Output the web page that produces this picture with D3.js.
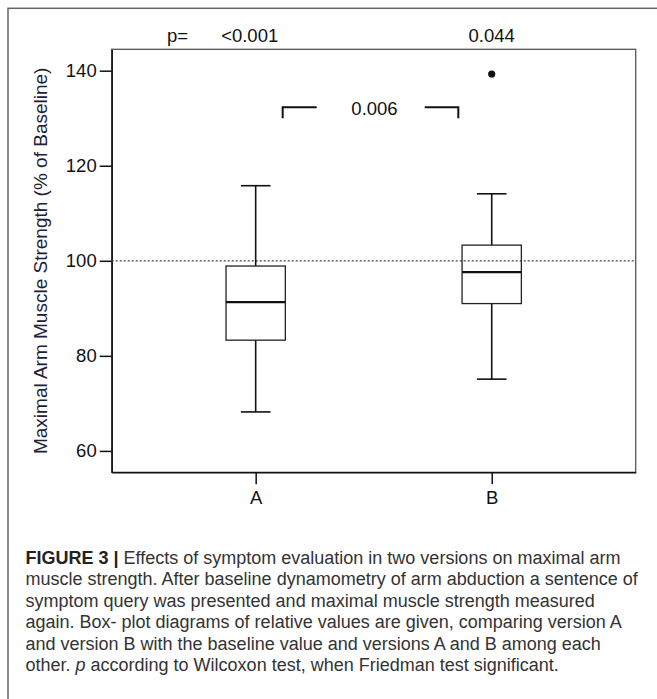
<!DOCTYPE html>
<html>

<head>
  <meta charset="utf-8">
  <script src="https://d3js.org/d3.v7.min.js"></script>
  <style>
    body { margin: 0; background: #fff; }
    text { font-family: "Liberation Sans", Arial, sans-serif; }
  </style>
</head>

<body>
  <script>
    //Chart data
    const categories = ["A", "B"];
    const whiskerLow = [68.2, 75.1];
    const q1 = [83.3, 91.0];
    const median = [91.3, 97.6];
    const q3 = [98.9, 103.3];
    const whiskerHigh = [115.8, 114.1];
    const outlierCategory = ["B"];
    const outlierValue = [139.3];
    const pVsBaseline = ["<0.001", "0.044"];
    const pBetween = "0.006";
    const bracketValue = 132.3;
    const baselineValue = 100;
    const yTicks = [60, 80, 100, 120, 140];
    const yTitle = "Maximal Arm Muscle Strength (% of Baseline)";
    const captionLines = [
      " Effects of symptom evaluation in two versions on maximal arm",
      "muscle strength. After baseline dynamometry of arm abduction a sentence of",
      "symptom query was presented and maximal muscle strength measured",
      "again. Box- plot diagrams of relative values are given, comparing version A",
      "and version B with the baseline value and versions A and B among each",
      " according to Wilcoxon test, when Friedman test significant."
    ];

    const width = 657;
    const height = 699;
    const margin = { top: 49.3, left: 111.7, right: 21.3, bottom: 226.7 };

    const svg = d3.select("body").append("svg")
      .attr("width", width)
      .attr("height", height);

    //Outer figure frame
    svg.append("rect")
      .attr("x", 8).attr("y", 8.3)
      .attr("width", 700).attr("height", 750)
      .attr("fill", "none")
      .attr("stroke", "#666")
      .attr("stroke-width", 1.5);

    const x = d3.scalePoint()
      .domain(categories)
      .range([margin.left, width - margin.right])
      .padding(0.61);

    const y = d3.scaleLinear()
      .domain([55.5, 144.5])
      .range([height - margin.bottom, margin.top]);

    const plotRight = width - margin.right;
    const plotBottom = height - margin.bottom;
    const boxWidth = 59.3;

    //Plot border (top/right in grey)
    svg.append("rect")
      .attr("x", margin.left).attr("y", margin.top)
      .attr("width", plotRight - margin.left)
      .attr("height", plotBottom - margin.top)
      .attr("fill", "none")
      .attr("stroke", "#555")
      .attr("stroke-width", 1.3);

    //Axes
    const yAxis = svg.append("g")
      .attr("transform", "translate(" + margin.left + ",0)")
      .call(d3.axisLeft(y).tickValues(yTicks).tickSize(12).tickSizeOuter(0).tickPadding(3));

    const xAxis = svg.append("g")
      .attr("transform", "translate(0," + plotBottom + ")")
      .call(d3.axisBottom(x).tickSize(12).tickSizeOuter(0).tickPadding(7));

    [yAxis, xAxis].forEach(function(axis) {
      axis.select(".domain").attr("stroke", "#111").attr("stroke-width", 1.5);
      axis.selectAll(".tick line").attr("stroke", "#111").attr("stroke-width", 1.5);
      axis.selectAll(".tick text")
        .attr("fill", "#111")
        .style("font-size", "18.5px")
        .style("font-family", "'Liberation Sans', Arial, sans-serif");
    });

    //Y axis title
    svg.append("text")
      .attr("transform", "translate(46.7," + (margin.top + plotBottom) / 2 + ") rotate(-90)")
      .attr("text-anchor", "middle")
      .attr("fill", "#1c2136")
      .style("font-size", "19px")
      .text(yTitle);

    //Baseline reference line
    svg.append("line")
      .attr("x1", margin.left).attr("x2", plotRight)
      .attr("y1", y(baselineValue)).attr("y2", y(baselineValue))
      .attr("stroke", "#444")
      .attr("stroke-width", 1.3)
      .attr("stroke-dasharray", "2,2");

    //Box plots
    const boxes = svg.selectAll(".box")
      .data(categories)
      .enter().append("g")
      .attr("class", "box");

    boxes.append("line")
      .attr("x1", d => x(d)).attr("x2", d => x(d))
      .attr("y1", (d, i) => y(whiskerHigh[i]))
      .attr("y2", (d, i) => y(q3[i]))
      .attr("stroke", "#111").attr("stroke-width", 1.6);

    boxes.append("line")
      .attr("x1", d => x(d)).attr("x2", d => x(d))
      .attr("y1", (d, i) => y(q1[i]))
      .attr("y2", (d, i) => y(whiskerLow[i]))
      .attr("stroke", "#111").attr("stroke-width", 1.6);

    [whiskerHigh, whiskerLow].forEach(function(vals) {
      boxes.append("line")
        .attr("x1", d => x(d) - boxWidth / 4).attr("x2", d => x(d) + boxWidth / 4)
        .attr("y1", (d, i) => y(vals[i]))
        .attr("y2", (d, i) => y(vals[i]))
        .attr("stroke", "#111").attr("stroke-width", 1.6);
    });

    boxes.append("rect")
      .attr("x", d => x(d) - boxWidth / 2)
      .attr("width", boxWidth)
      .attr("y", (d, i) => y(q3[i]))
      .attr("height", (d, i) => y(q1[i]) - y(q3[i]))
      .attr("fill", "none")
      .attr("stroke", "#222").attr("stroke-width", 1.3);

    boxes.append("line")
      .attr("x1", d => x(d) - boxWidth / 2).attr("x2", d => x(d) + boxWidth / 2)
      .attr("y1", (d, i) => y(median[i]))
      .attr("y2", (d, i) => y(median[i]))
      .attr("stroke", "#111").attr("stroke-width", 2.2);

    //Outliers
    svg.selectAll(".outlier")
      .data(outlierValue)
      .enter().append("circle")
      .attr("class", "outlier")
      .attr("cx", (d, i) => x(outlierCategory[i]))
      .attr("cy", d => y(d))
      .attr("r", 3.6)
      .attr("fill", "#111");

    //p values against baseline
    svg.append("text")
      .attr("x", 167).attr("y", 41.7)
      .attr("fill", "#111")
      .style("font-size", "18.5px")
      .text("p=");

    svg.selectAll(".pval")
      .data(pVsBaseline)
      .enter().append("text")
      .attr("class", "pval")
      .attr("x", (d, i) => x(categories[i]) - (i === 0 ? 6 : 0))
      .attr("y", 41.7)
      .attr("text-anchor", "middle")
      .attr("fill", "#111")
      .style("font-size", "18.5px")
      .text(d => d);

    //Bracket between A and B
    const by = y(bracketValue);
    const bl = x("A") + 27;
    const br = x("B") - 33.4;
    svg.append("path")
      .attr("d", "M" + bl + "," + (by + 11) + "V" + by + "H" + (bl + 34))
      .attr("fill", "none").attr("stroke", "#111").attr("stroke-width", 2);
    svg.append("path")
      .attr("d", "M" + (br - 33.6) + "," + by + "H" + br + "V" + (by + 11))
      .attr("fill", "none").attr("stroke", "#111").attr("stroke-width", 2);
    svg.append("text")
      .attr("x", (bl + br) / 2 + 4).attr("y", by + 7.7)
      .attr("text-anchor", "middle")
      .attr("fill", "#111")
      .style("font-size", "18.5px")
      .text(pBetween);

    //Caption
    const caption = svg.append("g")
      .attr("fill", "#333")
      .style("font-size", "18px");

    captionLines.forEach(function(line, i) {
      const t = caption.append("text")
        .attr("x", 25.5)
        .attr("y", 563.5 + i * 21.5);
      if (i === 0) {
        t.append("tspan").attr("font-weight", "bold").attr("fill", "#222").text("FIGURE 3 |");
      }
      if (i === captionLines.length - 1) {
        t.append("tspan").text("other. ");
        t.append("tspan").attr("font-style", "italic").text("p");
      }
      t.append("tspan").text(line);
    });
  </script>
</body>

</html>
